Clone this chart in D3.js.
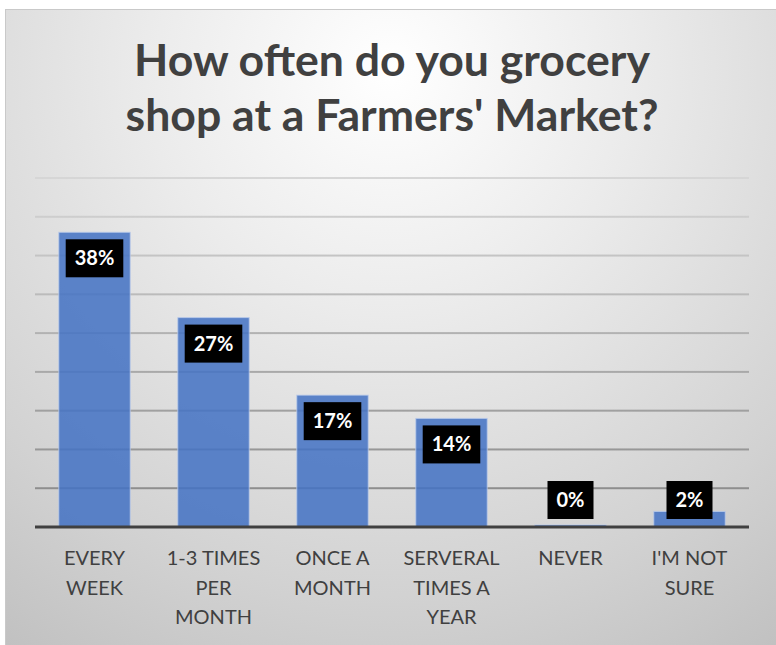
<!DOCTYPE html>
<html>
<head>
<meta charset="utf-8">
<script src="https://cdn.jsdelivr.net/npm/d3@7"></script>
<style>
  html, body { margin: 0; padding: 0; background: #ffffff; }
  svg { display: block; }
</style>
</head>
<body>
<svg id="chart" width="776" height="645"></svg>
<script>
// Survey answers and their shares (percent)
const categories = ["EVERY\nWEEK", "1-3 TIMES\nPER\nMONTH", "ONCE A\nMONTH", "SERVERAL\nTIMES A\nYEAR", "NEVER", "I'M NOT\nSURE"];
const values = [38, 27, 17, 14, 0, 2];
const gridTicks = [5, 10, 15, 20, 25, 30, 35, 40, 45];
const titleLines = ["How often do you grocery", "shop at a Farmers' Market?"];

const W = 776, H = 645;
const svg = d3.select("#chart");
const defs = svg.append("defs");

// Soft radial backdrop, bright under the title and greying toward the corners
const bg = defs.append("radialGradient")
  .attr("id", "bgGrad")
  .attr("gradientUnits", "userSpaceOnUse")
  .attr("cx", 390).attr("cy", 70).attr("r", 700);
bg.append("stop").attr("offset", "0").attr("stop-color", "#ffffff");
bg.append("stop").attr("offset", "0.35").attr("stop-color", "#ebebeb");
bg.append("stop").attr("offset", "0.75").attr("stop-color", "#d2d2d2");
bg.append("stop").attr("offset", "1").attr("stop-color", "#c0c0c0");

svg.append("rect")
  .attr("x", 5.5).attr("y", 9.5)
  .attr("width", W + 10).attr("height", H + 10)
  .attr("fill", "url(#bgGrad)")
  .attr("stroke", "#c9c9c9").attr("stroke-width", 1);

// Plot geometry
const plot = { left: 35, right: 749, top: 178, bottom: 527 };

const x = d3.scaleBand()
  .domain(d3.range(categories.length))
  .range([plot.left, plot.right])
  .paddingInner(0.4)
  .paddingOuter(0.2);

const y = d3.scaleLinear()
  .domain([0, 45])
  .range([plot.bottom, plot.top]);

// Gridlines fade from light at the top to darker near the axis
const gg = defs.append("linearGradient")
  .attr("id", "gridGrad")
  .attr("gradientUnits", "userSpaceOnUse")
  .attr("x1", 0).attr("y1", plot.top).attr("x2", 0).attr("y2", plot.bottom);
gg.append("stop").attr("offset", "0").attr("stop-color", "#d6d6d6");
gg.append("stop").attr("offset", "1").attr("stop-color", "#858585");

const grid = d3.axisLeft(y)
  .tickValues(gridTicks)
  .tickSize(-(plot.right - plot.left))
  .tickFormat("");

const gGrid = svg.append("g")
  .attr("transform", `translate(${plot.left},0)`)
  .call(grid);
gGrid.select(".domain").remove();
// horizontal lines as thin rects so the vertical gradient applies to them
gGrid.selectAll(".tick").each(function(d) {
  const t = d3.select(this);
  const yy = y(d);
  t.select("line").remove();
  t.attr("transform", null);
  t.append("rect")
    .attr("x", 0).attr("y", yy - 1)
    .attr("width", plot.right - plot.left).attr("height", 2)
    .attr("fill", "url(#gridGrad)");
});

// Bars (a zero value still shows as a hairline on the axis)
svg.append("g")
  .selectAll("rect")
  .data(values)
  .join("rect")
  .attr("x", (d, i) => x(i))
  .attr("y", d => Math.min(y(d), y(0) - 2))
  .attr("width", x.bandwidth())
  .attr("height", d => Math.max(2, y(0) - y(d)))
  .attr("fill", "#4472C4")
  .attr("fill-opacity", 0.86)
  .attr("stroke", "#b9cbea")
  .attr("stroke-opacity", 0.8)
  .attr("stroke-width", 1);

// Category axis (baseline + wrapped labels)
const xAxis = d3.axisBottom(x).tickSize(0).tickFormat("");
const gX = svg.append("g")
  .attr("transform", `translate(0,${plot.bottom})`)
  .call(xAxis);
gX.select(".domain")
  .attr("d", `M${plot.left},0H${plot.right}`)
  .attr("stroke", "#404040")
  .attr("stroke-width", 3);

gX.selectAll(".tick").each(function(i) {
  const lines = categories[i].split("\n");
  const t = d3.select(this).append("text")
    .attr("fill", "#404040")
    .attr("font-family", "Lato, 'Open Sans', sans-serif")
    .attr("font-size", 20)
    .attr("text-anchor", "middle");
  lines.forEach((ln, k) => {
    t.append("tspan").attr("x", 0).attr("y", 38 + k * 29.5).text(ln);
  });
});

// Value labels: black boxes with white text near the top of each bar
const labels = svg.append("g")
  .selectAll("g")
  .data(values)
  .join("g");

labels.each(function(d, i) {
  const g = d3.select(this);
  const cx = x(i) + x.bandwidth() / 2;
  const boxH = 38;
  const top = Math.min(y(d) + 7, plot.bottom - 8 - boxH);
  const txt = g.append("text")
    .attr("x", cx)
    .attr("y", top + boxH / 2 + 7)
    .attr("text-anchor", "middle")
    .attr("fill", "#ffffff")
    .attr("font-family", "Lato, 'Open Sans', sans-serif")
    .attr("font-weight", 700)
    .attr("font-size", 20)
    .text(d + "%");
  const w = txt.node().getComputedTextLength() + 18;
  g.insert("rect", "text")
    .attr("x", cx - w / 2)
    .attr("y", top)
    .attr("width", w)
    .attr("height", boxH)
    .attr("fill", "#000000");
});

// Title, sized so the first line spans the chart's title width
const title = svg.append("text")
  .attr("text-anchor", "middle")
  .attr("fill", "#404040")
  .attr("font-family", "Lato, 'Open Sans', sans-serif")
  .attr("font-weight", 700)
  .attr("font-size", 42);
titleLines.forEach((ln, k) => {
  title.append("tspan").attr("x", 392).attr("y", 76 + k * 55).text(ln);
});
const firstLen = title.select("tspan").node().getComputedTextLength();
title.attr("font-size", 42 * 516 / firstLen);
</script>
</body>
</html>
